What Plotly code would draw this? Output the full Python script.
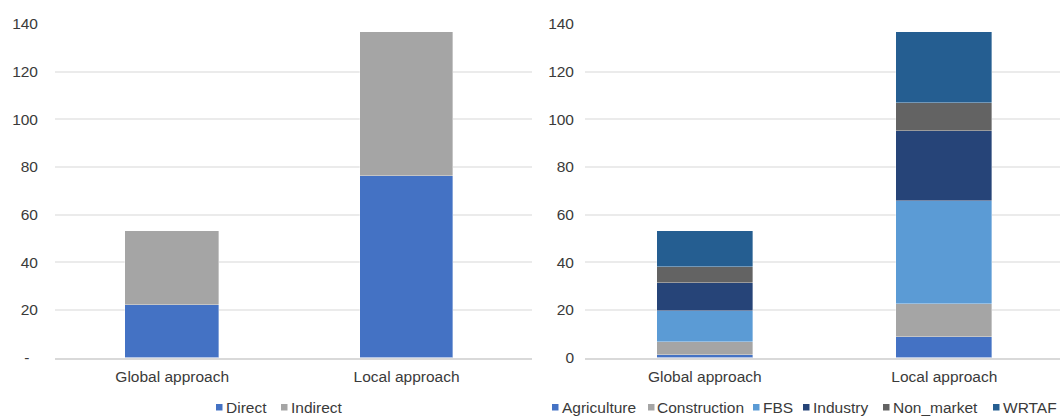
import plotly.graph_objects as go

# Categories shared by both panels
approaches = ["Global approach", "Local approach"]

# Left panel: direct vs indirect effect
direct = [22.0, 76.1]
indirect = [31.0, 60.5]

# Right panel: breakdown by sector
agriculture = [0.9, 8.8]
construction = [5.8, 13.6]
fbs = [12.9, 43.4]
industry = [11.7, 29.4]
non_market = [6.5, 11.8]
wrtaf = [15.2, 29.6]

left_names = ["Direct", "Indirect"]
left_colors = ["#4472C4", "#A5A5A5"]
right_names = ["Agriculture", "Construction", "FBS", "Industry", "Non_market", "WRTAF"]
right_colors = ["#4472C4", "#A5A5A5", "#5B9BD5", "#264478", "#636363", "#255E91"]

y_ticks = [0, 20, 40, 60, 80, 100, 120, 140]
left_tick_text = ["-\u00a0\u00a0", "20", "40", "60", "80", "100", "120", "140"]
right_tick_text = ["0", "20", "40", "60", "80", "100", "120", "140"]

W, H = 1060, 416
FONT = "Liberation Sans, Arial, sans-serif"
TXT = "#3A3A3A"
FS = 15.5

fig = go.Figure()

for name, vals, col in zip(left_names, [direct, indirect], left_colors):
    fig.add_trace(go.Bar(x=approaches, y=vals, name=name, marker_color=col,
                         marker_line=dict(color="rgba(255,255,255,0.6)", width=0.6),
                         width=0.4, xaxis="x", yaxis="y", showlegend=False))

right_series = [agriculture, construction, fbs, industry, non_market, wrtaf]
for name, vals, col in zip(right_names, right_series, right_colors):
    fig.add_trace(go.Bar(x=approaches, y=vals, name=name, marker_color=col,
                         marker_line=dict(color="rgba(255,255,255,0.6)", width=0.6),
                         width=0.4, xaxis="x2", yaxis="y2", showlegend=False))


def px_x(p):
    return p / W


def px_y(p):
    return 1 - p / H


y_dom = [px_y(357.5), px_y(24)]

axis_x = dict(type="category", showgrid=False, showline=True, linecolor="#D9D9D9",
              linewidth=2, ticks="", tickfont=dict(family=FONT, size=FS, color=TXT),
              ticklabelstandoff=4, fixedrange=True, automargin=False)
axis_y = dict(range=[0, 140], tickvals=y_ticks, showgrid=True, gridcolor="#EBEBEB",
              gridwidth=1.5, zeroline=False, showline=False, ticks="",
              tickfont=dict(family=FONT, size=FS, color=TXT), fixedrange=True,
              automargin=False)

fig.update_layout(
    width=W, height=H, barmode="stack", bargap=0,
    margin=dict(l=0, r=0, t=0, b=0, pad=0, autoexpand=False),
    paper_bgcolor="white", plot_bgcolor="white",
    font=dict(family=FONT, size=FS, color=TXT),
    xaxis=dict(axis_x, domain=[px_x(55), px_x(532)], range=[-0.5, 1.535], anchor="y"),
    yaxis=dict(axis_y, domain=y_dom, anchor="x", ticktext=left_tick_text,
               ticklabelstandoff=16),
    xaxis2=dict(axis_x, domain=[px_x(585), 1.0], range=[-0.5, 1.483], anchor="y2"),
    yaxis2=dict(axis_y, domain=y_dom, anchor="x2", ticktext=right_tick_text,
                ticklabelstandoff=10),
)

# Legends: small colour squares followed by the series name
legend_y = 407.5


def add_legend(names, colors, positions):
    for name, col, x0 in zip(names, colors, positions):
        fig.add_shape(type="rect", xref="paper", yref="paper",
                      x0=px_x(x0), x1=px_x(x0 + 6.5),
                      y0=px_y(legend_y + 3), y1=px_y(legend_y - 3.5),
                      fillcolor=col, line_width=0)
        fig.add_annotation(text=name, xref="paper", yref="paper",
                           x=px_x(x0 + 7.5), y=px_y(legend_y), xanchor="left",
                           yanchor="middle", showarrow=False,
                           font=dict(family=FONT, size=FS, color=TXT))


add_legend(left_names, left_colors, [216, 281])
add_legend(right_names, right_colors, [552, 648, 753, 803, 883, 993])

fig.write_html("out.html")
